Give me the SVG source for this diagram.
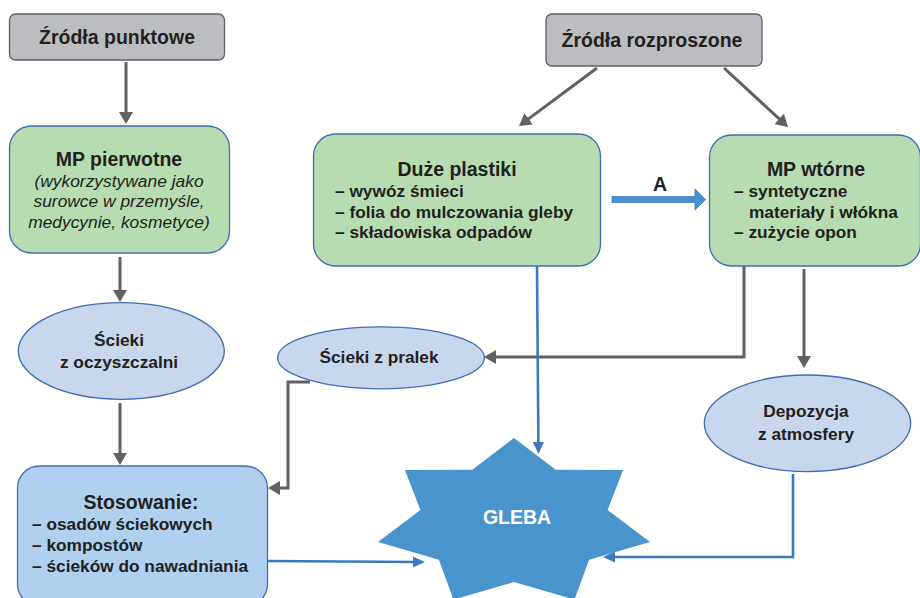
<svg xmlns="http://www.w3.org/2000/svg" width="920" height="598" viewBox="0 0 920 598">
<defs>
<style>
text{font-family:"Liberation Sans",Arial,Helvetica,sans-serif;fill:#231f20;font-weight:bold}
.t{font-size:19.5px;text-anchor:middle}
.l{font-size:17.3px}
.c{font-size:17.3px;text-anchor:middle}
.i{font-size:17.4px;font-weight:normal;font-style:italic;text-anchor:middle}
.gray{fill:#bcbdc0;stroke:#5f6062;stroke-width:1.3}
.green{fill:#b8dcb1;stroke:#3d6eb2;stroke-width:1.3}
.ell{fill:#c9d7ec;stroke:#3d6eb2;stroke-width:1.3}
.lblue{fill:#afd0ee;stroke:#3d6eb2;stroke-width:1.3}
.g{fill:none;stroke:#616161;stroke-width:3}
.b{fill:none;stroke:#3b79be;stroke-width:2.6}
</style>
<marker id="ag" markerUnits="userSpaceOnUse" markerWidth="12" markerHeight="14" refX="3" refY="7" orient="auto">
<path d="M0,0 L12,7 L0,14 z" fill="#616161"/>
</marker>
<marker id="ab" markerUnits="userSpaceOnUse" markerWidth="12" markerHeight="11" refX="3" refY="5.5" orient="auto">
<path d="M0,0 L12,5.5 L0,11 z" fill="#3b79be"/>
</marker>
</defs>

<g id="connectors">
<path class="g" d="M126,62 V115" marker-end="url(#ag)"/>
<path class="g" d="M597,68 L526.2,120.6" marker-end="url(#ag)"/>
<path class="g" d="M724,68 L781.4,120.9" marker-end="url(#ag)"/>
<path class="g" d="M120,257 V293" marker-end="url(#ag)"/>
<path class="g" d="M120,403 V456" marker-end="url(#ag)"/>
<path class="g" d="M310,382 H288 V488 H277" marker-end="url(#ag)"/>
<path class="g" d="M744,266 V357 H493" marker-end="url(#ag)"/>
<path class="g" d="M804,269 V359" marker-end="url(#ag)"/>
<path class="b" d="M537,266 L538.4,445" marker-end="url(#ab)"/>
<path class="b" d="M793,474 V557 H612" marker-end="url(#ab)"/>
<path class="b" d="M268,561 L416,562" marker-end="url(#ab)"/>
<polygon points="612,196.5 695,196.5 695,189 705.5,199.5 695,210 695,202.5 612,202.5" fill="#4a8fd0" stroke="#3b79be" stroke-width="0.8"/>
<text class="t" x="660" y="191">A</text>
</g>

<g id="zrodla-punktowe">
<rect class="gray" x="9.5" y="14" width="215" height="46" rx="6"/>
<text class="t" x="117" y="44">Źródła punktowe</text>
</g>

<g id="zrodla-rozproszone">
<rect class="gray" x="546" y="14" width="216" height="52" rx="6"/>
<text class="t" x="652" y="47">Źródła rozproszone</text>
</g>

<g id="mp-pierwotne">
<rect class="green" x="9.5" y="126" width="220" height="127" rx="22"/>
<text class="t" x="119" y="166">MP pierwotne</text>
<text class="i" x="119" y="186.5">(wykorzystywane jako</text>
<text class="i" x="119" y="207">surowce w przemyśle,</text>
<text class="i" x="119" y="227.5">medycynie, kosmetyce)</text>
</g>

<g id="duze-plastiki">
<rect class="green" x="313.5" y="134" width="287" height="132" rx="22"/>
<text class="t" x="457" y="176">Duże plastiki</text>
<text class="l" x="335" y="197">– wywóz śmieci</text>
<text class="l" x="335" y="217.5">– folia do mulczowania gleby</text>
<text class="l" x="335" y="238">– składowiska odpadów</text>
</g>

<g id="mp-wtorne">
<rect class="green" x="709.5" y="135" width="211" height="131" rx="22"/>
<text class="t" x="816" y="176">MP wtórne</text>
<text class="l" x="734" y="197">– syntetyczne</text>
<text class="l" x="749" y="217.5">materiały i włókna</text>
<text class="l" x="734" y="238">– zużycie opon</text>
</g>

<g id="scieki-oczyszczalni">
<ellipse class="ell" cx="121.3" cy="351" rx="103" ry="48.3"/>
<text class="c" x="119" y="346">Ścieki</text>
<text class="c" x="119" y="368">z oczyszczalni</text>
</g>

<g id="scieki-pralek">
<ellipse class="ell" cx="381" cy="357.8" rx="103.3" ry="31"/>
<text class="c" x="379" y="363">Ścieki z pralek</text>
</g>

<g id="depozycja">
<ellipse class="ell" cx="807.5" cy="423.3" rx="103.2" ry="48.3"/>
<text class="c" x="806" y="417">Depozycja</text>
<text class="c" x="806" y="440">z atmosfery</text>
</g>

<g id="stosowanie">
<rect class="lblue" x="17.5" y="466" width="250" height="140" rx="22"/>
<text class="t" x="141" y="509">Stosowanie:</text>
<text class="l" x="32" y="530">– osadów ściekowych</text>
<text class="l" x="32" y="551">– kompostów</text>
<text class="l" x="32" y="572">– ścieków do nawadniania</text>
</g>

<g id="gleba">
<polygon points="514,438 555.7,469.8 623.1,470 607.6,509.9 650,541.9 589.1,559.8 574.5,599.6 514,582 453.5,599.6 438.9,559.8 378,541.9 420.4,509.9 404.9,470 472.3,469.8" fill="#4a94ce"/>
<text class="t" x="517" y="524" style="fill:#ffffff">GLEBA</text>
</g>
</svg>
